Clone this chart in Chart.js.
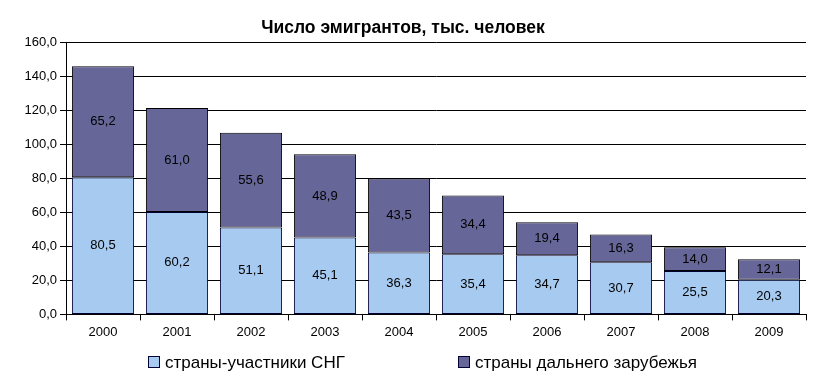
<!DOCTYPE html>
<html><head><meta charset="utf-8">
<script src="https://cdn.jsdelivr.net/npm/chart.js@4"></script>
<style>html,body{margin:0;padding:0;background:#fff}#w{width:814px;height:379px}</style>
</head><body><div id="w"><canvas id="c"></canvas></div>
<script>
const years = ['2000','2001','2002','2003','2004','2005','2006','2007','2008','2009'];
const cisValues = [80.5,60.2,51.1,45.1,36.3,35.4,34.7,30.7,25.5,20.3];
const farValues = [65.2,61.0,55.6,48.9,43.5,34.4,19.4,16.3,14.0,12.1];
const seriesNames = ['страны-участники СНГ','страны дальнего зарубежья'];
const titleText = 'Число эмигрантов, тыс. человек';
const fmt = v => v.toFixed(1).replace('.', ',');

const valueLabels = {
  id:'valueLabels',
  afterDatasetsDraw(chart){
    const ctx = chart.ctx;
    ctx.save();
    ctx.font = '13px "Liberation Sans", Arial, sans-serif';
    ctx.fillStyle = '#000';
    ctx.textAlign = 'center';
    ctx.textBaseline = 'middle';
    chart.data.datasets.forEach((ds,i)=>{
      chart.getDatasetMeta(i).data.forEach((bar,j)=>{
        const y = (bar.y + bar.base)/2;
        ctx.fillText(fmt(ds.data[j]), bar.x, y);
      });
    });
    ctx.restore();
  }
};

const customLegend = {
  id:'customLegend',
  afterDraw(chart){
    const ctx = chart.ctx;
    const starts = [148, 458];
    const yMid = 362;
    ctx.save();
    ctx.font = '17px "Liberation Sans", Arial, sans-serif';
    ctx.textBaseline = 'middle';
    ctx.textAlign = 'left';
    chart.data.datasets.forEach((ds,i)=>{
      const x = starts[i];
      ctx.fillStyle = ds.backgroundColor;
      ctx.fillRect(x, yMid-6, 12, 12);
      ctx.strokeStyle = '#000033';
      ctx.lineWidth = 1;
      ctx.strokeRect(x+0.5, yMid-5.5, 11, 11);
      ctx.fillStyle = '#000';
      ctx.fillText(ds.label, x+17, yMid+1);
    });
    ctx.restore();
  }
};

new Chart(document.getElementById('c'), {
  type:'bar',
  data:{
    labels: years,
    datasets:[
      {label:seriesNames[0], data:cisValues, backgroundColor:'#a6caf0', borderColor:'#000033', borderWidth:1, borderSkipped:false, barPercentage:0.84, categoryPercentage:1},
      {label:seriesNames[1], data:farValues, backgroundColor:'#666699', borderColor:'#000000', borderWidth:1, borderSkipped:false, barPercentage:0.84, categoryPercentage:1}
    ]
  },
  options:{
    responsive:true, maintainAspectRatio:false, animation:false,
    layout:{padding:{left:0,right:8,top:0,bottom:35}},
    plugins:{
      title:{display:true, text:titleText, color:'#000', font:{family:'"Liberation Sans Narrow", "Liberation Sans", Arial', size:17.5, weight:'bold'}, padding:{top:18,bottom:3}},
      legend:{display:false},
      tooltip:{enabled:false}
    },
    scales:{
      x:{stacked:true, grid:{display:true, offset:true, drawOnChartArea:false, drawTicks:true, tickLength:6, color:'#000'}, border:{color:'#000'}, ticks:{color:'#000', font:{family:'"Liberation Sans", Arial', size:13}, padding:4}},
      y:{stacked:true, min:0, max:160, grid:{color:'#000', tickLength:6}, border:{color:'#000'},
         ticks:{stepSize:20, color:'#000', font:{family:'"Liberation Sans", Arial', size:13}, padding:3, callback:v=>fmt(v)},
         afterFit(s){s.width=66;}}
    }
  },
  plugins:[valueLabels, customLegend]
});
</script></body></html>
